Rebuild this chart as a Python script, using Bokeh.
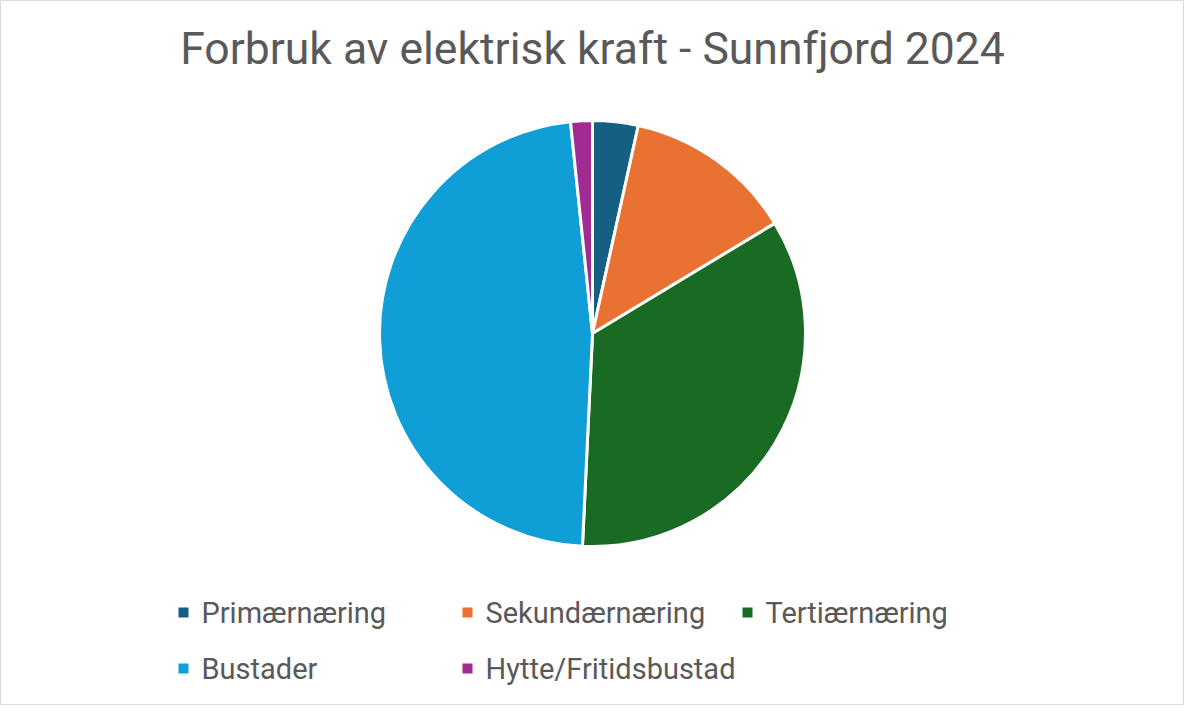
import math
import numpy as np
from bokeh.plotting import figure
from bokeh.models import Range1d
from bokeh.core.properties import value
from bokeh.embed import file_html
from bokeh.resources import INLINE

title = "Forbruk av elektrisk kraft - Sunnfjord 2024"
categories = ["Primærnæring", "Sekundærnæring", "Tertiærnæring", "Bustader", "Hytte/Fritidsbustad"]
shares = [3.45, 12.9, 34.4, 47.6, 1.65]
colors = ["#156082", "#E97132", "#196B24", "#0F9ED5", "#A02B93"]

W, H = 1184, 705
p = figure(width=W, height=H, output_backend="svg", toolbar_location=None,
           x_range=Range1d(8, 1192), y_range=Range1d(8, 713), min_border=0)
p.axis.visible = False
p.grid.visible = False
p.outline_line_color = "#D9D9D9"
p.outline_line_width = 1
p.background_fill_color = "white"
p.border_fill_color = "white"

def Y(s):
    return 721 - s

cx, cy, r = 600, Y(341), 213
vals = np.array(shares, dtype=float)
cum = np.concatenate([[0], np.cumsum(vals)]) / vals.sum()
starts = math.pi / 2 - 2 * math.pi * cum[:-1]
ends = math.pi / 2 - 2 * math.pi * cum[1:]
p.wedge(x=[cx] * len(vals), y=[cy] * len(vals), radius=r,
        start_angle=list(starts), end_angle=list(ends), direction="clock",
        fill_color=colors, line_color="white", line_width=3)

p.text(x=[600], y=[Y(56)], text=[title], text_align="center", text_baseline="middle",
       text_font=value("Roboto"), text_font_size="44.5px", text_color="#595959")

leg_x = [186, 470, 750, 186, 470]
leg_y = [620, 620, 620, 676, 676]
p.rect(x=[lx + 5 for lx in leg_x], y=[Y(ly) for ly in leg_y], width=10, height=10,
       fill_color=colors, line_color=None)
p.text(x=[lx + 23 for lx in leg_x], y=[Y(ly) for ly in leg_y], text=categories,
       text_align="left", text_baseline="middle", text_font=value("Roboto"),
       text_font_size="29px", text_color="#595959")

open("out.html", "w").write(file_html(p, INLINE))
